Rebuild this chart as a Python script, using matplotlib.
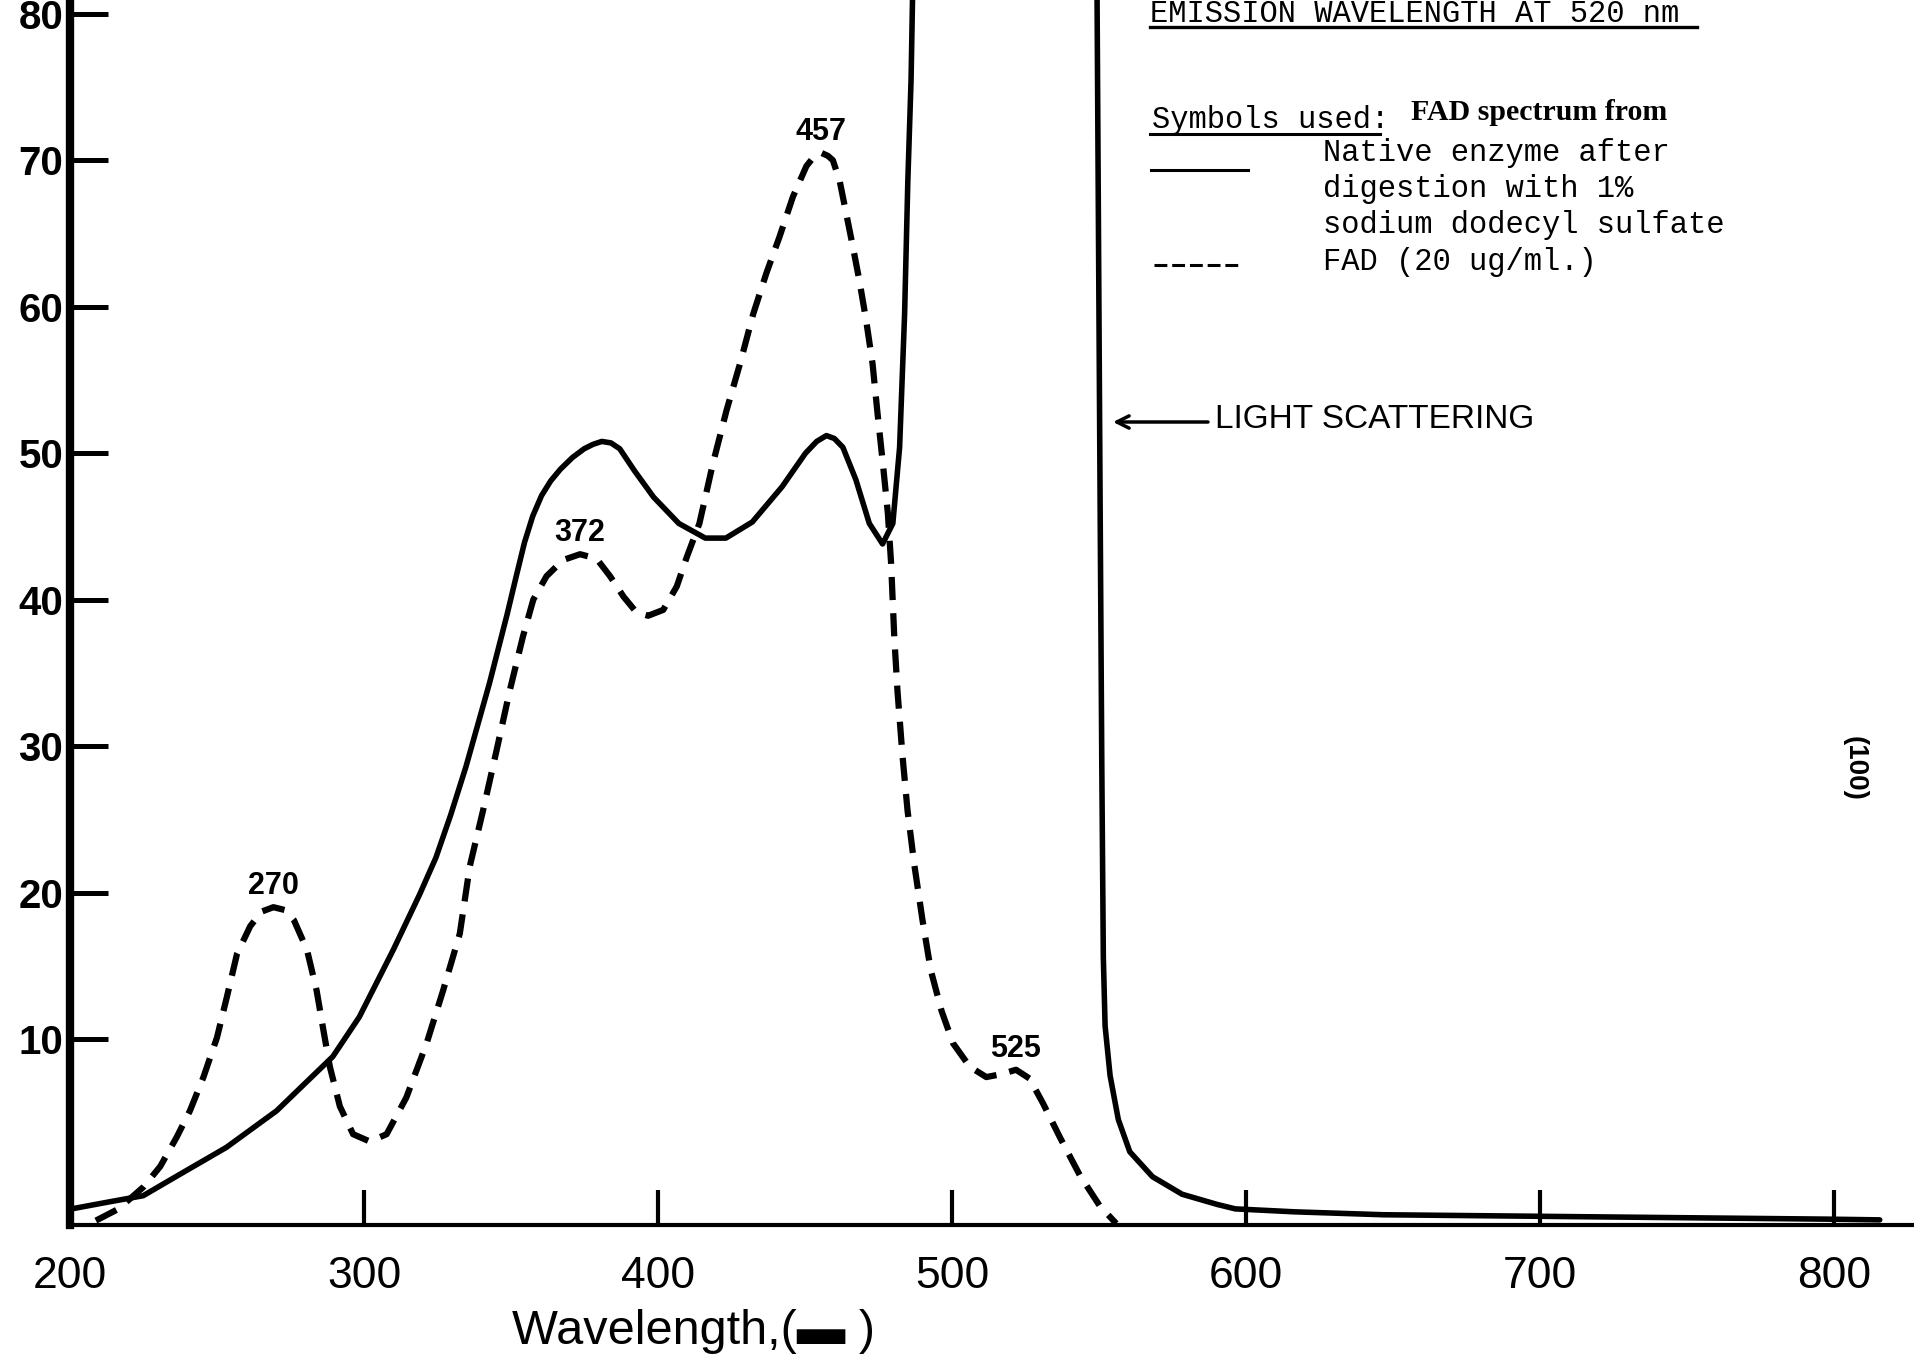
import matplotlib
matplotlib.use("Agg")
import matplotlib.pyplot as plt
import numpy as np
from matplotlib.lines import Line2D

# Native enzyme after digestion with 1% SDS (solid)
native_nm = [200.5, 213.9, 224.9, 236.0, 253.2, 270.3, 289.4, 298.4, 310.0, 319.0,
             324.5, 329.5, 334.7, 342.7, 348.7, 351.8, 354.6, 357.4, 360.4, 363.5,
             366.8, 370.9, 374.9, 377.9, 380.9, 384.0, 387.0, 392.0, 398.5, 407.1,
             416.1, 423.1, 432.1, 442.2, 450.2, 454.0, 457.3, 460.0, 462.9, 467.3,
             471.9, 476.4, 479.9, 482.2, 483.9, 485.0, 486.1, 487.4, 549.1, 550.4,
             551.0, 551.5, 552.1, 553.8, 556.6, 560.5, 568.2, 578.3, 590.3, 596.4,
             616.5, 646.7, 697.0, 747.4, 797.7, 815.6]
native_int = [-1.6, -1.1, -0.7, 0.6, 2.6, 5.1, 8.8, 11.5, 16.1, 19.9,
              22.4, 25.3, 28.6, 34.3, 39.0, 41.6, 43.9, 45.7, 47.1, 48.1,
              48.9, 49.7, 50.3, 50.6, 50.8, 50.7, 50.3, 48.8, 47.0, 45.2,
              44.2, 44.2, 45.3, 47.7, 50.0, 50.8, 51.2, 51.0, 50.4, 48.2,
              45.2, 43.8, 45.2, 50.4, 59.5, 68.6, 75.5, 90.0, 90.0, 46.8,
              28.1, 15.6, 10.9, 7.5, 4.5, 2.3, 0.6, -0.6, -1.3, -1.6,
              -1.8, -2.0, -2.1, -2.2, -2.3, -2.35]

# FAD (20 ug/ml) (dashed)
fad_nm = [208.8, 216.5, 225.0, 230.7, 236.3, 240.8, 245.4, 250.0, 253.4, 256.8,
          261.3, 265.2, 269.2, 273.2, 276.2, 280.6, 283.9, 286.2, 288.4, 291.8,
          296.3, 302.0, 307.7, 314.4, 321.3, 326.9, 332.6, 336.0, 340.5, 345.1,
          349.6, 354.1, 357.6, 362.1, 367.7, 373.5, 379.1, 383.7, 388.3, 392.8,
          396.7, 401.8, 406.4, 409.8, 414.1, 418.7, 423.3, 427.9, 432.4, 436.9,
          441.4, 445.9, 450.5, 453.3, 455.6, 457.8, 459.5, 461.8, 464.0, 466.3,
          468.5, 470.8, 473.0, 474.7, 476.5, 478.2, 479.3, 480.4, 481.5, 483.2,
          484.9, 487.2, 490.0, 492.8, 496.5, 500.4, 506.1, 511.7, 516.8, 521.8,
          526.4, 531.0, 536.7, 543.5, 550.3, 555.9]
fad_int = [-2.4, -1.6, -0.1, 1.3, 3.3, 5.1, 7.4, 10.1, 12.9, 15.8,
           17.7, 18.7, 19.0, 18.8, 18.1, 16.1, 13.3, 10.6, 8.1, 5.4,
           3.5, 3.0, 3.5, 6.0, 9.7, 13.3, 17.2, 21.8, 25.6, 29.7,
           33.8, 37.5, 40.0, 41.6, 42.7, 43.1, 42.8, 41.6, 40.2, 39.1,
           38.9, 39.3, 40.9, 42.9, 45.2, 49.3, 52.9, 56.1, 59.5, 62.3,
           64.8, 67.5, 69.6, 70.3, 70.5, 70.3, 70.0, 68.6, 66.4, 64.1,
           61.8, 59.1, 56.1, 52.7, 49.3, 45.9, 42.5, 37.4, 33.7, 29.3,
           25.6, 21.9, 18.1, 14.7, 11.9, 9.7, 8.1, 7.4, 7.6, 7.9,
           7.3, 5.6, 3.3, 0.7, -1.4, -2.6]

peak_labels = [270, 372, 457, 525]

x_ticks = [200, 300, 400, 500, 600, 700, 800]
y_ticks = [10, 20, 30, 40, 50, 60, 70, 80]

W, H = 1915, 1357


def fxy(px, py):
    return px / W, 1 - py / H


fig = plt.figure(figsize=(W / 100, H / 100), dpi=100)
ax = fig.add_axes([70 / W, 1 - 1225 / H, 1 - 70 / W, 1225 / H])

ax.plot(native_nm, native_int, color="black", lw=4.0, solid_capstyle="round",
        solid_joinstyle="round")
ax.plot(fad_nm, fad_int, color="black", lw=4.5, linestyle=(0, (3.7, 2.1)))

ax.set_xlim(200, 827.6)
ax.set_ylim(-2.7, 80.94)

for side in ("top", "right"):
    ax.spines[side].set_visible(False)
ax.spines["left"].set_linewidth(6)
ax.spines["bottom"].set_linewidth(3)

ax.set_xticks(x_ticks, labels=[str(v) for v in x_ticks])
ax.set_yticks(y_ticks, labels=[str(v) for v in y_ticks])
ax.tick_params(axis="y", direction="in", length=27, width=3.6, pad=5)
ax.tick_params(axis="x", direction="in", length=25, width=3, pad=22)
for lbl in ax.get_yticklabels():
    lbl.set_fontfamily("Liberation Sans")
    lbl.set_fontweight("bold")
    lbl.set_fontsize(29)
for lbl in ax.get_xticklabels():
    lbl.set_fontfamily("Liberation Sans")
    lbl.set_fontsize(32)

# peak labels above the FAD maxima
nm_arr = np.array(fad_nm)
int_arr = np.array(fad_int)
for lab in peak_labels:
    near = np.abs(nm_arr - lab) <= 12
    i = int(np.argmax(np.where(near, int_arr, -np.inf)))
    ax.annotate(str(lab), (nm_arr[i], int_arr[i]), xytext=(0, 15),
                textcoords="offset points", ha="center", va="center",
                fontsize=22, fontweight="bold", family="Liberation Sans")

# x label
fig.text(*fxy(694, 1331), "Wavelength,(\u25ac )", ha="center", va="center",
         fontsize=35, family=["Liberation Sans", "DejaVu Sans"])

# typed header and legend
mono = dict(family="Liberation Mono", fontsize=22, va="baseline", ha="left")
fig.text(*fxy(1150, 22), "EMISSION WAVELENGTH AT 520 nm", **mono)
fig.add_artist(Line2D([1150 / W, 1697 / W], [1 - 27 / H, 1 - 27 / H], color="black", lw=2.4))
fig.text(*fxy(1152, 128), "Symbols used:", **mono)
fig.add_artist(Line2D([1150 / W, 1380 / W], [1 - 134 / H, 1 - 134 / H], color="black", lw=2.2))
fig.text(*fxy(1411, 120), "FAD spectrum from", family="Liberation Serif",
         fontweight="bold", fontsize=21.5, va="baseline", ha="left")
fig.add_artist(Line2D([1151 / W, 1248 / W], [1 - 170 / H, 1 - 170 / H], color="black", lw=2.2))
fig.text(*fxy(1323, 161), "Native enzyme after", **mono)
fig.text(*fxy(1323, 197), "digestion with 1%", **mono)
fig.text(*fxy(1323, 233), "sodium dodecyl sulfate", **mono)
fig.text(*fxy(1323, 270), "FAD (20 ug/ml.)", **mono)
fig.add_artist(Line2D([1154 / W, 1238 / W], [1 - 265 / H, 1 - 265 / H], color="black",
                      lw=2.2, linestyle=(0, (4.2, 1.6))))

# light scattering callout
fig.text(*fxy(1215, 420), "LIGHT SCATTERING", fontsize=24, family="Liberation Sans",
         ha="left", va="center")
ax.annotate("", xy=fxy(1113, 422), xycoords="figure fraction",
            xytext=fxy(1208, 422), textcoords="figure fraction",
            arrowprops=dict(arrowstyle="->", lw=2.5, color="black",
                            shrinkA=0, shrinkB=0, mutation_scale=22))

fig.text(*fxy(1855, 768), "(100)", rotation=-90, fontsize=20, fontweight="bold",
         family="Liberation Sans", ha="center", va="center")

fig.savefig("out.png", dpi=100, facecolor="white")
